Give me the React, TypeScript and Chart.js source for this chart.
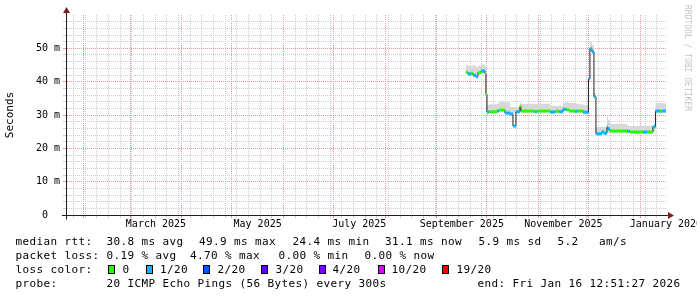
import React, { useEffect, useRef } from 'react';
import { Chart, registerables } from 'chart.js';

Chart.register(...registerables);

const FONT = '"DejaVu Sans Mono", monospace';

// ---- time axis (x values are days since 2025-01-01 00:00) ----
const rangeStartDay = 20.535; // Tue Jan 21 2025 12:51
const rangeEndDay = 380.535; // Fri Jan 16 2026 12:51
const dataEndDay = 380.5;
const monthStartDays = [31, 59, 90, 120, 151, 181, 212, 243, 273, 304, 334, 365];
const firstSundayDay = 25; // Sun Jan 26 2025
const xLabelDays = [74.5, 135.5, 196.5, 258, 319, 380.5];
const xTickLabels = ['March 2025', 'May 2025', 'July 2025', 'September 2025', 'November 2025', 'January 2026'];

// ---- value axis (milliseconds) ----
const yMax = 60;
const yGridStep = 2;
const yLabelValues = [0, 10, 20, 30, 40, 50];
const yTickLabels = ['0  ', '10 m', '20 m', '30 m', '40 m', '50 m'];

// ---- data: one entry per run of equal values ----
const segmentStartDays = [
  260.5, 261.7, 263.5, 264.7, 266.5, 267.7, 269.5, 271.9, 272.5, 273.1,
  274.3, 279.1, 280.3, 283.9, 286.9, 288.7, 290.5, 292.9, 293.5, 301.9,
  303.1, 311.1, 314.1, 316.5, 318.7, 320.5, 322.3, 326.1, 327.3, 330.9,
  334.0, 334.9, 336.1, 337.3, 338.5, 342.1, 343.3, 345.1, 345.7, 346.9,
  357.1, 358.9, 366.7, 369.1, 372.7, 374.2, 376.9, 378.1,
];
const medianMs = [
  42.8, 42.3, 42.5, 41.9, 41.5, 42.7, 43.2, 42.5, 36.2, 30.9,
  31.0, 31.2, 31.5, 30.6, 30.3, 26.7, 31.0, 32.6, 31.2, 31.0,
  31.2, 30.9, 31.1, 31.0, 31.7, 31.6, 31.2, 31.1, 31.2, 30.8,
  40.8, 49.9, 49.0, 35.5, 24.4, 25.0, 24.5, 26.4, 25.8, 25.2,
  25.1, 24.9, 24.9, 24.9, 26.5, 31.2, 31.1, 31.2,
];
const lossOf20 = [
  0, 1, 0, 1, 1, 0, 1, 0, 0, 1,
  0, 1, 0, 1, 1, 1, 1, 0, 0, 1,
  0, 1, 0, 1, 1, 0, 0, 1, 0, 1,
  1, 1, 1, 1, 1, 1, 1, 1, 1, 0,
  1, 0, 1, 0, 1, 1, 0, 1,
];
const smokeLowMs = [
  42.2, 41.8, 42.0, 41.4, 41.0, 42.2, 42.6, 42.0, 35.8, 30.4,
  30.5, 30.7, 31.0, 30.1, 29.8, 30.6, 30.5, 31.0, 30.7, 30.5,
  30.7, 30.4, 30.6, 30.5, 31.2, 31.1, 30.7, 30.6, 30.7, 30.3,
  40.2, 49.2, 48.4, 35.0, 23.9, 24.5, 24.0, 24.8, 24.6, 24.7,
  24.6, 24.4, 24.4, 24.4, 25.0, 30.7, 30.6, 30.7,
];
const smokeHighMs = [
  45.0, 44.8, 44.6, 44.9, 44.5, 44.8, 45.2, 44.5, 37.5, 33.0,
  33.2, 33.4, 34.0, 33.8, 32.5, 32.3, 32.4, 33.8, 33.3, 33.3,
  33.4, 32.8, 32.7, 32.8, 33.7, 33.8, 33.6, 33.5, 33.2, 33.0,
  41.5, 52.0, 51.0, 36.5, 26.4, 26.5, 26.3, 29.3, 28.5, 27.3,
  26.8, 26.7, 26.7, 26.7, 27.0, 33.6, 33.6, 33.5,
];

// ---- legend text ----
const lossLegendLabels = ['0', '1/20', '2/20', '3/20', '4/20', '10/20', '19/20'];
const lossColors = ['#26ff00', '#00b8ff', '#0059ff', '#5e00ff', '#7e00ff', '#dd00ff', '#ff0000'];
const rttTitle = 'median rtt:';
const rttStats = ['30.8 ms avg', '49.9 ms max', '24.4 ms min', '31.1 ms now', '5.9 ms sd', '5.2', 'am/s'];
const lossTitle = 'packet loss:';
const lossStats = ['0.19 % avg', '4.70 % max', '0.00 % min', '0.00 % now'];
const colorTitle = 'loss color:';
const probeTitle = 'probe:';
const probeText = '20 ICMP Echo Pings (56 Bytes) every 300s';
const endText = 'end: Fri Jan 16 12:51:27 2026';
const watermarkText = 'RRDTOOL / TOBI OETIKER';
const yTitle = 'Seconds';

// ---- layout / style ----
const W = 697;
const H = 297;
const PLOT_RIGHT = 666;
const PLOT_BOTTOM = 215;
const rowY = [245, 259, 273, 287];
const textX0 = 15.5;
const rttX = [106.5, 199, 292.5, 385, 478.5, 557.5, 599];
const lossX = [106.5, 190, 278.5, 364.5];
const boxX = [108, 146, 203, 261, 319, 378, 442];
const boxLabelX = [122.5, 160, 217.5, 275.5, 332.5, 391.5, 456.5];
const probeX = 106.5;
const endX = 477.5;

const MINOR = 'rgb(206,206,206)';
const MAJOR = 'rgb(235,150,150)';
const AXIS = 'rgb(31,31,31)';
const ARROW = 'rgb(128,31,31)';
const SMOKE = '#d8d8d8';
const TRANSPARENT = 'rgba(0,0,0,0)';

function segEnd(i: number) {
  return i + 1 < segmentStartDays.length ? segmentStartDays[i + 1] : dataEndDay;
}

function stepSeries(values: number[]) {
  const pts = segmentStartDays.map((d, i) => ({ x: d, y: values[i] }));
  pts.push({ x: dataEndDay, y: values[values.length - 1] });
  return pts;
}

function bandSeries(level: number) {
  const pts: { x: number; y: number | null }[] = [];
  segmentStartDays.forEach((d, i) => {
    if (lossOf20[i] !== level) return;
    const e = segEnd(i);
    pts.push({ x: d, y: medianMs[i] }, { x: e, y: medianMs[i] }, { x: e, y: null });
  });
  return pts;
}

function isSunday(v: number) {
  const k = (v - firstSundayDay) / 7;
  return Math.abs(k - Math.round(k)) < 1e-9;
}

function xGridColor(v: number) {
  if (monthStartDays.includes(v)) return MAJOR;
  if (isSunday(v)) return MINOR;
  return TRANSPARENT;
}

function yGridColor(v: number) {
  if (v === 0) return TRANSPARENT;
  return v % 10 === 0 ? MAJOR : MINOR;
}

function yTickColor(v: number) {
  if (v === 0) return AXIS;
  return v % 10 === 0 ? MAJOR : MINOR;
}

const decorPlugin = {
  id: 'rrdDecor',
  afterDraw(chart: any) {
    const { ctx, chartArea: a } = chart;
    const L = Math.round(a.left) + 0.5;
    const B = Math.round(a.bottom) + 0.5;
    const R = Math.round(a.right);
    const T = Math.round(a.top);
    ctx.save();
    ctx.strokeStyle = AXIS;
    ctx.lineWidth = 1;
    ctx.setLineDash([]);
    ctx.beginPath();
    ctx.moveTo(L - 4.5, B);
    ctx.lineTo(R + 2, B);
    ctx.moveTo(L, B + 4);
    ctx.lineTo(L, T - 2);
    ctx.stroke();
    ctx.fillStyle = ARROW;
    ctx.beginPath();
    ctx.moveTo(L - 3.5, T - 2);
    ctx.lineTo(L + 3.5, T - 2);
    ctx.lineTo(L, T - 8);
    ctx.closePath();
    ctx.fill();
    ctx.beginPath();
    ctx.moveTo(R + 2, B - 3.5);
    ctx.lineTo(R + 2, B + 3.5);
    ctx.lineTo(R + 8, B);
    ctx.closePath();
    ctx.fill();

    ctx.save();
    ctx.translate(687.5, 5);
    ctx.rotate(Math.PI / 2);
    ctx.font = '8px ' + FONT;
    ctx.fillStyle = 'rgba(0,0,0,0.25)';
    ctx.textAlign = 'left';
    ctx.textBaseline = 'middle';
    ctx.fillText(watermarkText, 0, 0);
    ctx.restore();

    ctx.font = '11px ' + FONT;
    (ctx as any).letterSpacing = '0.38px';
    ctx.fillStyle = '#000';
    ctx.textAlign = 'left';
    ctx.textBaseline = 'alphabetic';
    ctx.fillText(rttTitle, textX0, rowY[0]);
    rttStats.forEach((t, i) => ctx.fillText(t, rttX[i], rowY[0]));
    ctx.fillText(lossTitle, textX0, rowY[1]);
    lossStats.forEach((t, i) => ctx.fillText(t, lossX[i], rowY[1]));
    ctx.fillText(colorTitle, textX0, rowY[2]);
    lossLegendLabels.forEach((t, i) => {
      ctx.fillStyle = lossColors[i];
      ctx.fillRect(boxX[i], rowY[2] - 8, 7, 9);
      ctx.strokeStyle = '#000';
      ctx.strokeRect(boxX[i] + 0.5, rowY[2] - 7.5, 6, 8);
      ctx.fillStyle = '#000';
      ctx.fillText(t, boxLabelX[i], rowY[2]);
    });
    ctx.fillText(probeTitle, textX0, rowY[3]);
    ctx.fillText(probeText, probeX, rowY[3]);
    ctx.fillText(endText, endX, rowY[3]);
    (ctx as any).letterSpacing = '0px';
    ctx.restore();
  },
};

export default function App() {
  const ref = useRef<HTMLCanvasElement | null>(null);

  useEffect(() => {
    if (!ref.current) return;
    Chart.defaults.font.family = FONT;

    const tickSet = new Set<number>(monthStartDays);
    for (let d = firstSundayDay; d <= rangeEndDay; d += 7) tickSet.add(d);
    xLabelDays.forEach((d) => tickSet.add(d));
    const xTickValues = Array.from(tickSet).sort((p, q) => p - q);
    const yTickValues: number[] = [];
    for (let v = 0; v < yMax; v += yGridStep) yTickValues.push(v);

    const xColors = xTickValues.map(xGridColor);
    const yColors = yTickValues.map(yGridColor);
    const yTickColors = yTickValues.map(yTickColor);

    const bandDatasets = lossColors
      .map((color, level) => ({ color, level }))
      .filter(({ level }) => lossOf20.includes(level))
      .map(({ color, level }) => ({
        type: 'line' as const,
        label: lossLegendLabels[level],
        data: bandSeries(level),
        borderColor: color,
        borderWidth: 3,
        borderCapStyle: 'butt' as const,
        pointRadius: 0,
        spanGaps: false,
        fill: false,
        order: 1,
      }));

    const chart = new Chart(ref.current, {
      type: 'line',
      data: {
        datasets: [
          {
            label: 'smoke low',
            data: stepSeries(smokeLowMs),
            stepped: true,
            borderWidth: 0,
            borderColor: TRANSPARENT,
            pointRadius: 0,
            fill: false,
            order: 3,
          },
          {
            label: 'smoke high',
            data: stepSeries(smokeHighMs),
            stepped: true,
            borderWidth: 0,
            borderColor: TRANSPARENT,
            backgroundColor: SMOKE,
            pointRadius: 0,
            fill: '-1',
            order: 3,
          },
          {
            label: 'median rtt',
            data: stepSeries(medianMs),
            stepped: true,
            borderWidth: 1,
            borderColor: '#202020',
            pointRadius: 0,
            fill: false,
            order: 2,
          },
          ...bandDatasets,
        ] as any,
      },
      options: {
        animation: false,
        responsive: false,
        devicePixelRatio: 1,
        events: [],
        layout: { padding: { left: 0, top: 15, right: W - PLOT_RIGHT, bottom: 0 }, autoPadding: false },
        plugins: { legend: { display: false }, tooltip: { enabled: false } },
        scales: {
          x: {
            type: 'linear',
            min: rangeStartDay,
            max: rangeEndDay,
            afterBuildTicks: (scale: any) => {
              scale.ticks = xTickValues.map((value) => ({ value }));
            },
            afterFit: (scale: any) => {
              scale.height = H - PLOT_BOTTOM;
              scale.paddingLeft = 0;
              scale.paddingRight = 0;
            },
            ticks: {
              autoSkip: false,
              maxRotation: 0,
              minRotation: 0,
              padding: 0,
              color: '#000',
              font: { family: FONT, size: 10 },
              callback: (value: any) => {
                const k = xLabelDays.indexOf(Number(value));
                return k >= 0 ? xTickLabels[k] : '';
              },
            },
            grid: {
              drawOnChartArea: true,
              drawTicks: true,
              tickLength: 3,
              lineWidth: 1,
              color: xColors,
              tickColor: xColors,
            } as any,
            border: { display: true, color: AXIS, width: 1, dash: [1, 1] } as any,
          },
          y: {
            type: 'linear',
            min: 0,
            max: yMax,
            afterBuildTicks: (scale: any) => {
              scale.ticks = yTickValues.map((value) => ({ value }));
            },
            afterFit: (scale: any) => {
              scale.width = 66;
              scale.paddingTop = 0;
              scale.paddingBottom = 0;
            },
            title: {
              display: true,
              text: yTitle,
              color: '#000',
              font: { family: FONT, size: 11 },
              padding: { top: 4, bottom: 0 },
            },
            ticks: {
              autoSkip: false,
              padding: 3,
              color: '#000',
              font: { family: FONT, size: 10 },
              callback: (value: any) => {
                const k = yLabelValues.indexOf(Number(value));
                return k >= 0 ? yTickLabels[k] : '';
              },
            },
            grid: {
              drawOnChartArea: true,
              drawTicks: true,
              tickLength: 3,
              lineWidth: 1,
              color: yColors,
              tickColor: yTickColors,
            } as any,
            border: { display: true, color: AXIS, width: 1, dash: [1, 1] } as any,
          },
        },
      } as any,
      plugins: [decorPlugin],
    });

    return () => chart.destroy();
  }, []);

  return (
    <div style={{ position: 'fixed', left: 0, top: 0, width: W, height: H, background: '#fff' }}>
      <canvas ref={ref} width={W} height={H} style={{ width: W, height: H, display: 'block' }} />
    </div>
  );
}
